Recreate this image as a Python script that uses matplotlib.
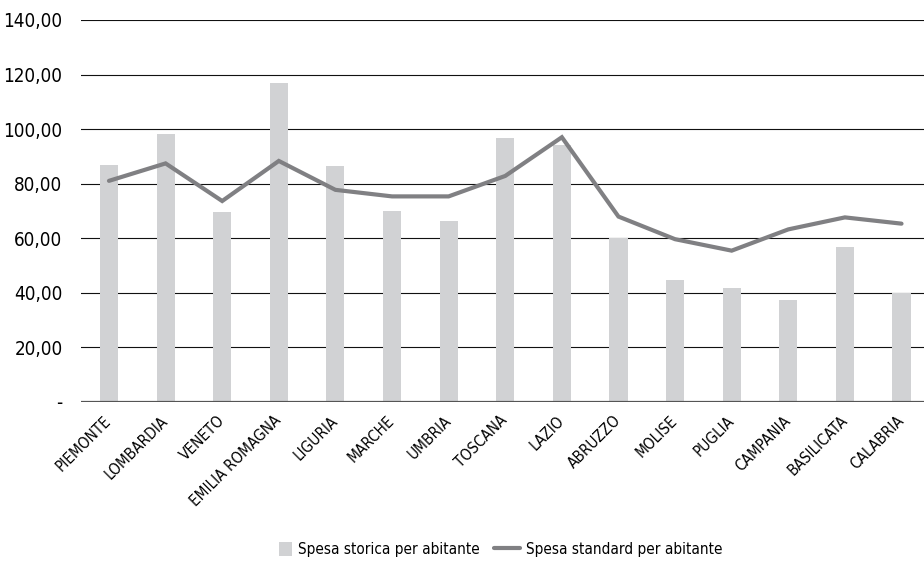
import numpy as np
import matplotlib
matplotlib.use("Agg")
import matplotlib.pyplot as plt
from matplotlib.ticker import FuncFormatter
from matplotlib.patches import Rectangle
from matplotlib.legend_handler import HandlerPatch

plt.rcParams['font.family'] = ['DejaVu Sans']
plt.rcParams['font.stretch'] = 'condensed'

regioni = ["PIEMONTE", "LOMBARDIA", "VENETO", "EMILIA ROMAGNA", "LIGURIA",
           "MARCHE", "UMBRIA", "TOSCANA", "LAZIO", "ABRUZZO", "MOLISE",
           "PUGLIA", "CAMPANIA", "BASILICATA", "CALABRIA"]
spesa_storica = [86.8, 98.2, 69.6, 116.9, 86.5, 70.0, 66.3, 96.7, 94.3,
                 60.1, 44.6, 41.7, 37.3, 56.7, 39.9]
spesa_standard = [81.0, 87.4, 73.6, 88.3, 77.7, 75.3, 75.3, 82.8, 97.0,
                  67.9, 59.6, 55.4, 63.2, 67.6, 65.3]
yticks = [0, 20, 40, 60, 80, 100, 120, 140]


def fmt(v, pos):
    if v == 0:
        return "-"
    return ("%.2f" % v).replace(".", ",")


def quadrato(legend, orig_handle, xdescent, ydescent, width, height, fontsize):
    # square swatch pushed to the right end of the handle box
    lato = height * 1.0
    return Rectangle((width - lato - xdescent, -ydescent + (height - lato) / 2),
                     lato, lato)


fig = plt.figure(figsize=(9.24, 5.63), dpi=100)
ax = fig.add_axes([0.0873, 0.2865, 0.919, 0.678])

x = np.arange(len(regioni))
barre = ax.bar(x, spesa_storica, width=0.32, color="#d1d2d4", zorder=3)
linea, = ax.plot(x, spesa_standard, color="#808083", linewidth=3.0,
                 solid_capstyle="round", solid_joinstyle="miter", zorder=4)

ax.set_xlim(-0.5, len(regioni) - 0.5)
ax.set_ylim(0, 140)
ax.set_yticks(yticks)
ax.yaxis.set_major_formatter(FuncFormatter(fmt))
for t in yticks:
    if t == 0:
        ax.axhline(t, color="#555555", linewidth=1.6, zorder=5)
    else:
        ax.axhline(t, color="#111111", linewidth=0.8, zorder=2)

for s in ax.spines.values():
    s.set_visible(False)
ax.tick_params(axis="both", length=0)
ax.tick_params(axis="y", labelsize=13.5, pad=13)
ax.set_xticks(x)
ax.set_xticklabels(regioni, rotation=45, ha="right", va="center",
                   rotation_mode="anchor", fontsize=11)
ax.tick_params(axis="x", pad=12)

barra_leg = barre.patches[0]
fig.legend(handles=[barra_leg, linea],
           labels=["Spesa storica per abitante", "Spesa standard per abitante"],
           loc="center", bbox_to_anchor=(0.535, 0.024), ncol=2,
           frameon=False, fontsize=11, handlelength=1.7,
           handleheight=1.0, columnspacing=0.9, handletextpad=0.4,
           handler_map={barra_leg: HandlerPatch(patch_func=quadrato)})

fig.savefig("out.png", dpi=100)
